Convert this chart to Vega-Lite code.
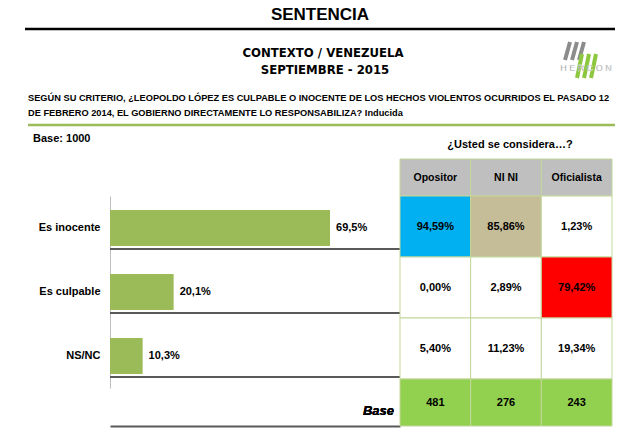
{
  "$schema": "https://vega.github.io/schema/vega-lite/v6.json",
  "width": 640,
  "height": 440,
  "autosize": "none",
  "padding": 0,
  "background": "white",
  "config": {
    "view": {"stroke": null},
    "font": "Liberation Sans",
    "locale": {"number": {"decimal": ",", "thousands": ".", "grouping": [3], "currency": ["", " €"]}}
  },
  "datasets": {
    "bars": [
      {"respuesta": "Es inocente", "pct": 0.695},
      {"respuesta": "Es culpable", "pct": 0.201},
      {"respuesta": "NS/NC", "pct": 0.103}
    ],
    "cells": [
      {"respuesta": "Es inocente", "grupo": "Opositor", "pct": 0.9459},
      {"respuesta": "Es inocente", "grupo": "NI NI", "pct": 0.8586},
      {"respuesta": "Es inocente", "grupo": "Oficialista", "pct": 0.0123},
      {"respuesta": "Es culpable", "grupo": "Opositor", "pct": 0.0},
      {"respuesta": "Es culpable", "grupo": "NI NI", "pct": 0.0289},
      {"respuesta": "Es culpable", "grupo": "Oficialista", "pct": 0.7942},
      {"respuesta": "NS/NC", "grupo": "Opositor", "pct": 0.054},
      {"respuesta": "NS/NC", "grupo": "NI NI", "pct": 0.1123},
      {"respuesta": "NS/NC", "grupo": "Oficialista", "pct": 0.1934}
    ],
    "base": [
      {"grupo": "Opositor", "n": 481},
      {"grupo": "NI NI", "n": 276},
      {"grupo": "Oficialista", "n": 243}
    ],
    "blank": [{}]
  },
  "layer": [
    {
      "data": {"name": "blank"},
      "mark": {"type": "text", "text": "SENTENCIA", "font": "Liberation Sans", "fontWeight": "bold", "fontSize": 17, "align": "center", "baseline": "middle", "color": "#000"},
      "encoding": {"x": {"value": 320}, "y": {"value": 15}}
    },
    {
      "data": {"name": "blank"},
      "mark": {"type": "rule", "color": "#000", "strokeWidth": 2.5},
      "encoding": {"x": {"value": 25}, "x2": {"value": 615}, "y": {"value": 29}}
    },
    {
      "data": {"name": "blank"},
      "mark": {"type": "text", "text": "CONTEXTO / VENEZUELA", "font": "DejaVu Sans Condensed, sans-serif", "fontWeight": "bold", "fontSize": 13, "align": "center", "baseline": "middle", "color": "#000"},
      "encoding": {"x": {"value": 323}, "y": {"value": 53}}
    },
    {
      "data": {"name": "blank"},
      "mark": {"type": "text", "text": "SEPTIEMBRE - 2015", "font": "DejaVu Sans Condensed, sans-serif", "fontWeight": "bold", "fontSize": 13, "align": "center", "baseline": "middle", "color": "#000"},
      "encoding": {"x": {"value": 325}, "y": {"value": 70}}
    },
    {
      "data": {"name": "blank"},
      "mark": {"type": "rule", "color": "#8c8c8c", "strokeWidth": 4},
      "encoding": {"x": {"value": 565}, "y": {"value": 60}, "x2": {"value": 570}, "y2": {"value": 42}}
    },
    {
      "data": {"name": "blank"},
      "mark": {"type": "rule", "color": "#8c8c8c", "strokeWidth": 4},
      "encoding": {"x": {"value": 572}, "y": {"value": 60}, "x2": {"value": 577}, "y2": {"value": 42}}
    },
    {
      "data": {"name": "blank"},
      "mark": {"type": "rule", "color": "#8c8c8c", "strokeWidth": 4},
      "encoding": {"x": {"value": 579}, "y": {"value": 60}, "x2": {"value": 584}, "y2": {"value": 42}}
    },
    {
      "data": {"name": "blank"},
      "mark": {"type": "rule", "color": "#8dc63f", "strokeWidth": 4},
      "encoding": {"x": {"value": 577}, "y": {"value": 78}, "x2": {"value": 582}, "y2": {"value": 54}}
    },
    {
      "data": {"name": "blank"},
      "mark": {"type": "rule", "color": "#8dc63f", "strokeWidth": 4},
      "encoding": {"x": {"value": 584}, "y": {"value": 78}, "x2": {"value": 589}, "y2": {"value": 54}}
    },
    {
      "data": {"name": "blank"},
      "mark": {"type": "rule", "color": "#8dc63f", "strokeWidth": 4},
      "encoding": {"x": {"value": 591}, "y": {"value": 78}, "x2": {"value": 596}, "y2": {"value": 54}}
    },
    {
      "data": {"name": "blank"},
      "mark": {"type": "text", "text": "H E R C O N", "font": "Liberation Sans", "fontSize": 9, "align": "center", "baseline": "middle", "color": "#6f6f6f", "stroke": "white", "strokeWidth": 0.3},
      "encoding": {"x": {"value": 586}, "y": {"value": 68}}
    },
    {
      "data": {"name": "blank"},
      "mark": {"type": "text", "text": "SEGÚN SU CRITERIO, ¿LEOPOLDO LÓPEZ ES CULPABLE O INOCENTE DE LOS HECHOS VIOLENTOS  OCURRIDOS EL PASADO 12", "font": "Liberation Sans", "fontWeight": "bold", "fontSize": 9.25, "align": "left", "baseline": "middle", "color": "#000"},
      "encoding": {"x": {"value": 28}, "y": {"value": 98}}
    },
    {
      "data": {"name": "blank"},
      "mark": {"type": "text", "text": "DE FEBRERO 2014,  EL GOBIERNO DIRECTAMENTE LO RESPONSABILIZA? Inducida", "font": "Liberation Sans", "fontWeight": "bold", "fontSize": 9.25, "align": "left", "baseline": "middle", "color": "#000"},
      "encoding": {"x": {"value": 28}, "y": {"value": 113}}
    },
    {
      "data": {"name": "blank"},
      "mark": {"type": "rule", "color": "#9bbb59", "strokeWidth": 2.5},
      "encoding": {"x": {"value": 28}, "x2": {"value": 615}, "y": {"value": 125}}
    },
    {
      "data": {"name": "blank"},
      "mark": {"type": "text", "text": "Base: 1000", "font": "Liberation Sans", "fontWeight": "bold", "fontSize": 11, "align": "left", "baseline": "middle", "color": "#000"},
      "encoding": {"x": {"value": 33}, "y": {"value": 139}}
    },
    {
      "data": {"name": "blank"},
      "mark": {"type": "text", "text": "¿Usted se considera…?", "font": "Liberation Sans", "fontWeight": "bold", "fontSize": 11, "align": "center", "baseline": "middle", "color": "#000"},
      "encoding": {"x": {"value": 510}, "y": {"value": 145}}
    },
    {
      "data": {"name": "bars"},
      "layer": [
        {
          "mark": {"type": "bar", "color": "#9bbb59"},
          "encoding": {
            "y": {
              "field": "respuesta", "type": "nominal", "sort": null,
              "scale": {"range": [196, 388], "paddingInner": 0.4375, "paddingOuter": 0.21875},
              "axis": {"orient": "left", "offset": -110, "title": null, "ticks": false, "domainColor": "#bfbfbf", "domainWidth": 1, "labelFont": "Liberation Sans", "labelFontWeight": "bold", "labelFontSize": 11, "labelColor": "#000", "labelPadding": 10}
            },
            "x": {
              "field": "pct", "type": "quantitative",
              "scale": {"domain": [0, 0.916], "range": [110, 400], "nice": false, "zero": true},
              "axis": {"orient": "bottom", "offset": -14, "title": null, "ticks": false, "labels": false, "grid": false, "domainColor": "#595959", "domainWidth": 2}
            }
          }
        },
        {
          "mark": {"type": "text", "align": "left", "baseline": "middle", "dx": 6, "font": "Liberation Sans", "fontWeight": "bold", "fontSize": 11, "color": "#000"},
          "encoding": {
            "y": {"field": "respuesta", "type": "nominal", "sort": null},
            "x": {"field": "pct", "type": "quantitative"},
            "text": {"field": "pct", "type": "quantitative", "format": ".1%"}
          }
        },
        {
          "mark": {"type": "rule", "color": "#595959", "strokeWidth": 2, "yOffset": 3},
          "encoding": {
            "y": {"field": "respuesta", "type": "nominal", "sort": null, "bandPosition": 1},
            "x": {"datum": 0},
            "x2": {"datum": 0.916}
          }
        }
      ]
    },
    {
      "data": {"name": "base"},
      "layer": [
        {
          "mark": {"type": "rect", "fill": "#bfbfbf", "stroke": "#c3d69b", "strokeWidth": 1},
          "encoding": {
            "x": {"field": "grupo", "type": "nominal", "sort": null, "scale": {"range": [400, 612], "paddingInner": 0, "paddingOuter": 0}, "axis": null},
            "y": {"datum": "Encabezado", "type": "nominal", "scale": {"domain": ["Encabezado"], "range": [159, 196], "paddingInner": 0, "paddingOuter": 0}, "axis": null}
          }
        },
        {
          "mark": {"type": "text", "font": "Liberation Sans", "fontWeight": "bold", "fontSize": 10.5, "color": "#000", "baseline": "middle"},
          "encoding": {
            "x": {"field": "grupo", "type": "nominal", "sort": null},
            "y": {"datum": "Encabezado", "type": "nominal"},
            "text": {"field": "grupo", "type": "nominal"}
          }
        }
      ]
    },
    {
      "data": {"name": "cells"},
      "layer": [
        {
          "mark": {"type": "rect", "stroke": "#c3d69b", "strokeWidth": 1},
          "encoding": {
            "x": {"field": "grupo", "type": "nominal", "sort": null, "scale": {"range": [400, 612], "paddingInner": 0, "paddingOuter": 0}, "axis": null},
            "y": {"field": "respuesta", "type": "nominal", "sort": null, "scale": {"range": [196, 379], "paddingInner": 0, "paddingOuter": 0}, "axis": null},
            "fill": {
              "condition": {"test": "datum.pct > 0.5", "field": "grupo", "type": "nominal", "scale": {"domain": ["Opositor", "NI NI", "Oficialista"], "range": ["#00b0f0", "#c4bd97", "#ff0000"]}, "legend": null},
              "value": "#ffffff"
            }
          }
        },
        {
          "mark": {"type": "text", "font": "Liberation Sans", "fontWeight": "bold", "fontSize": 11, "color": "#000", "baseline": "middle"},
          "encoding": {
            "x": {"field": "grupo", "type": "nominal", "sort": null},
            "y": {"field": "respuesta", "type": "nominal", "sort": null},
            "text": {"field": "pct", "type": "quantitative", "format": ".2%"}
          }
        }
      ]
    },
    {
      "data": {"name": "base"},
      "layer": [
        {
          "mark": {"type": "rect", "fill": "#92d050", "stroke": "#c3d69b", "strokeWidth": 1},
          "encoding": {
            "x": {"field": "grupo", "type": "nominal", "sort": null, "scale": {"range": [400, 612], "paddingInner": 0, "paddingOuter": 0}, "axis": null},
            "y": {"datum": "Base", "type": "nominal", "scale": {"domain": ["Base"], "range": [379, 426], "paddingInner": 0, "paddingOuter": 0}, "axis": null}
          }
        },
        {
          "mark": {"type": "text", "font": "Liberation Sans", "fontWeight": "bold", "fontSize": 11, "color": "#000", "baseline": "middle"},
          "encoding": {
            "x": {"field": "grupo", "type": "nominal", "sort": null},
            "y": {"datum": "Base", "type": "nominal"},
            "text": {"field": "n", "type": "quantitative"}
          }
        },
        {
          "mark": {"type": "text", "font": "Liberation Sans", "fontWeight": "bold", "fontStyle": "italic", "fontSize": 13, "color": "#000", "baseline": "middle", "align": "right", "dx": -6, "dy": 8},
          "encoding": {
            "x": {"datum": "Opositor", "type": "nominal", "bandPosition": 0},
            "y": {"datum": "Base", "type": "nominal"},
            "text": {"value": "Base"}
          }
        }
      ]
    }
  ],
  "resolve": {"scale": {"x": "independent", "y": "independent", "fill": "independent"}}
}
